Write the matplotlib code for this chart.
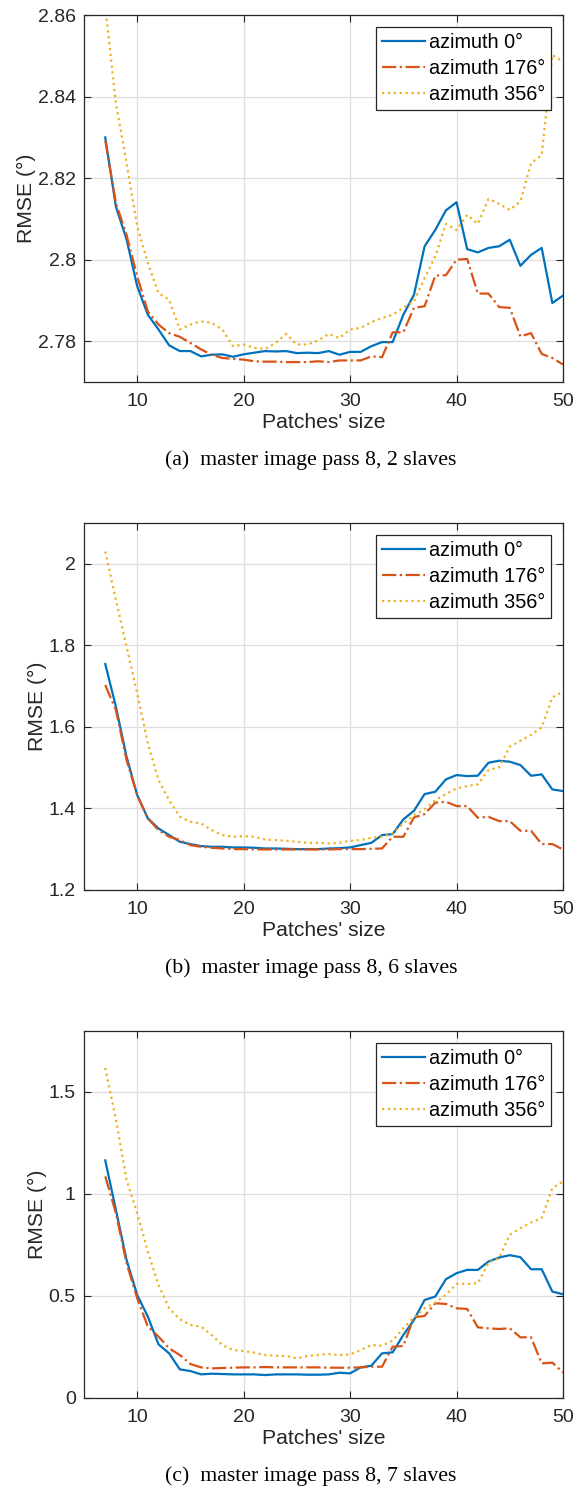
import numpy as np
import matplotlib
matplotlib.use("Agg")
import matplotlib.pyplot as plt

plt.rcParams['font.family'] = ['Liberation Sans', 'DejaVu Sans']

# patch sizes 7..50
patch = list(range(7, 51))

# (a) master image pass 8, 2 slaves
a_az0 = [2.830, 2.813, 2.805, 2.7935, 2.7865, 2.7829, 2.779, 2.7776, 2.7776, 2.7763,
         2.7767, 2.7768, 2.7762, 2.7768, 2.7772, 2.7776, 2.7775, 2.7776, 2.7771, 2.7772,
         2.7771, 2.7776, 2.7767, 2.7774, 2.7774, 2.7788, 2.7798, 2.7798, 2.7865, 2.7914,
         2.8033, 2.8073, 2.8121, 2.8141, 2.8026, 2.8018, 2.8029, 2.8033, 2.8049, 2.7985,
         2.8012, 2.8029, 2.7894, 2.7912]
a_az176 = [2.8292, 2.8139, 2.8061, 2.7959, 2.7873, 2.7841, 2.782, 2.7811, 2.7796, 2.778,
           2.7767, 2.7759, 2.7757, 2.7755, 2.7751, 2.775, 2.775, 2.7749, 2.7749, 2.7749,
           2.7751, 2.7749, 2.7753, 2.7753, 2.7753, 2.7763, 2.7761, 2.7822, 2.7822, 2.7882,
           2.7886, 2.7961, 2.7962, 2.800, 2.8002, 2.7917, 2.7917, 2.7884, 2.7882, 2.7812,
           2.782, 2.7769, 2.7759, 2.7743]
a_az356 = [2.862, 2.8384, 2.8237, 2.8082, 2.7992, 2.7918, 2.7902, 2.7829, 2.7841, 2.7849,
           2.7845, 2.7829, 2.7788, 2.7792, 2.7784, 2.7781, 2.7796, 2.7818, 2.7792, 2.7792,
           2.7802, 2.7818, 2.7808, 2.7829, 2.7833, 2.7847, 2.7857, 2.7865, 2.7882, 2.7898,
           2.7955, 2.8008, 2.8088, 2.8073, 2.811, 2.8088, 2.8149, 2.8137, 2.8122, 2.8143,
           2.8237, 2.8257, 2.8502, 2.8486]

# (b) master image pass 8, 6 slaves
b_az0 = [1.7542, 1.6495, 1.5268, 1.4327, 1.3755, 1.3509, 1.3346, 1.3182, 1.3125, 1.3076,
         1.3059, 1.3059, 1.3043, 1.3043, 1.3035, 1.3018, 1.3018, 1.301, 1.3002, 1.3002,
         1.3002, 1.3018, 1.3026, 1.3043, 1.31, 1.3157, 1.3346, 1.337, 1.373, 1.3943,
         1.4352, 1.4409, 1.4712, 1.4818, 1.4793, 1.4802, 1.5121, 1.517, 1.5145, 1.5063,
         1.4802, 1.4834, 1.4466, 1.4425]
b_az176 = [1.7027, 1.6413, 1.5186, 1.4327, 1.3755, 1.3468, 1.3305, 1.3223, 1.31, 1.3059,
           1.3035, 1.3018, 1.3002, 1.3002, 1.2994, 1.2994, 1.2994, 1.2994, 1.2994, 1.2994,
           1.2994, 1.2994, 1.3002, 1.3002, 1.3002, 1.301, 1.3018, 1.3305, 1.3305, 1.3779,
           1.3861, 1.4139, 1.4164, 1.4057, 1.4057, 1.3771, 1.3795, 1.3689, 1.3689, 1.3452,
           1.3452, 1.3125, 1.3125, 1.2994]
b_az356 = [2.03, 1.9112, 1.7967, 1.6822, 1.5595, 1.4695, 1.4204, 1.3796, 1.3673, 1.3632,
           1.3468, 1.3346, 1.3305, 1.3321, 1.3305, 1.3239, 1.3223, 1.3207, 1.3182, 1.3157,
           1.3157, 1.3141, 1.3157, 1.3207, 1.3223, 1.328, 1.3305, 1.3387, 1.3632, 1.3836,
           1.3975, 1.4204, 1.4352, 1.4491, 1.4548, 1.4589, 1.4941, 1.5006, 1.5513, 1.566,
           1.58, 1.5988, 1.6724, 1.6863]

# (c) master image pass 8, 7 slaves
c_az0 = [1.1642, 0.9219, 0.6763, 0.504, 0.3979, 0.262, 0.2178, 0.1392, 0.131, 0.1146,
         0.1179, 0.1163, 0.1146, 0.1146, 0.1146, 0.1113, 0.1146, 0.1146, 0.1146, 0.113,
         0.113, 0.1146, 0.1228, 0.1195, 0.149, 0.1572, 0.2178, 0.2227, 0.3078, 0.3815,
         0.4798, 0.4962, 0.5813, 0.6108, 0.6272, 0.6272, 0.6681, 0.6877, 0.6992, 0.6894,
         0.6304, 0.6304, 0.5207, 0.5076]
c_az176 = [1.0856, 0.9055, 0.6599, 0.488, 0.3488, 0.2997, 0.2423, 0.2096, 0.1654, 0.149,
           0.1441, 0.1457, 0.1474, 0.149, 0.149, 0.1506, 0.149, 0.149, 0.149, 0.149,
           0.149, 0.1474, 0.1474, 0.1474, 0.149, 0.1523, 0.1523, 0.2505, 0.2538, 0.3946,
           0.4012, 0.4634, 0.4601, 0.4388, 0.4356, 0.3455, 0.3406, 0.3373, 0.3406, 0.2964,
           0.2964, 0.1687, 0.1719, 0.1244]
c_az356 = [1.6178, 1.364, 1.0693, 0.9055, 0.7172, 0.5535, 0.4388, 0.3848, 0.357, 0.3488,
           0.3078, 0.2587, 0.2342, 0.2292, 0.2211, 0.2096, 0.2063, 0.2047, 0.1932, 0.2047,
           0.2096, 0.2145, 0.2096, 0.2129, 0.2342, 0.2587, 0.2554, 0.28, 0.3406, 0.3946,
           0.4388, 0.4667, 0.5043, 0.5584, 0.5584, 0.5617, 0.6632, 0.6845, 0.7991, 0.8318,
           0.8597, 0.881, 1.0283, 1.0611]

labels = ['azimuth 0°', 'azimuth 176°', 'azimuth 356°']
colors = ['#0072BD', '#D95319', '#EDB120']
styles = ['-', '-.', ':']

panels = [
    ([a_az0, a_az176, a_az356], (2.77, 2.86), [2.78, 2.80, 2.82, 2.84, 2.86],
     ['2.78', '2.8', '2.82', '2.84', '2.86'], '(a)  master image pass 8, 2 slaves'),
    ([b_az0, b_az176, b_az356], (1.2, 2.1), [1.2, 1.4, 1.6, 1.8, 2.0],
     ['1.2', '1.4', '1.6', '1.8', '2'], '(b)  master image pass 8, 6 slaves'),
    ([c_az0, c_az176, c_az356], (0, 1.8), [0, 0.5, 1.0, 1.5],
     ['0', '0.5', '1', '1.5'], '(c)  master image pass 8, 7 slaves'),
]

fig = plt.figure(figsize=(5.76, 14.93), dpi=100)
bottoms = [0.7441, 0.4039, 0.0638]
caps_y = [0.6919, 0.3516, 0.0114]

for (series, ylim, yt, ytl, cap), b, cy in zip(panels, bottoms, caps_y):
    ax = fig.add_axes([0.1458, b, 0.8316, 0.2458])
    for s, lab, c, ls in zip(series, labels, colors, styles):
        ax.plot(patch, s, color=c, linestyle=ls, linewidth=1.6, label=lab)
    ax.set_xlim(5, 50)
    ax.set_ylim(*ylim)
    ax.set_xticks([10, 20, 30, 40, 50])
    ax.set_yticks(yt)
    ax.set_yticklabels(ytl)
    ax.grid(True, color='#dfdfdf', linewidth=0.9)
    ax.set_axisbelow(True)
    ax.tick_params(direction='in', top=True, right=True, length=5, width=0.8,
                   labelsize=14, colors='#262626')
    ax.tick_params(axis='y', pad=6)
    ax.tick_params(axis='x', pad=8)
    for sp in ax.spines.values():
        sp.set_color('#262626')
        sp.set_linewidth(0.9)
    ax.set_xlabel("Patches' size", fontsize=15.2, color='#262626', labelpad=2)
    ax.set_ylabel('RMSE (°)', fontsize=15.2, color='#262626', labelpad=1)
    leg = ax.legend(loc='upper right', fontsize=14.3, frameon=True, fancybox=False,
                    borderaxespad=0.6, handlelength=2.15, handletextpad=0.2,
                    borderpad=0.3, labelspacing=0.35)
    leg.get_frame().set_edgecolor('#262626')
    leg.get_frame().set_linewidth(0.9)
    leg.get_frame().set_alpha(1)
    fig.text(0.54, cy, cap, ha='center', va='center', fontsize=15.7,
             family=['Liberation Serif', 'DejaVu Serif'])

fig.savefig('out.png', dpi=100)
